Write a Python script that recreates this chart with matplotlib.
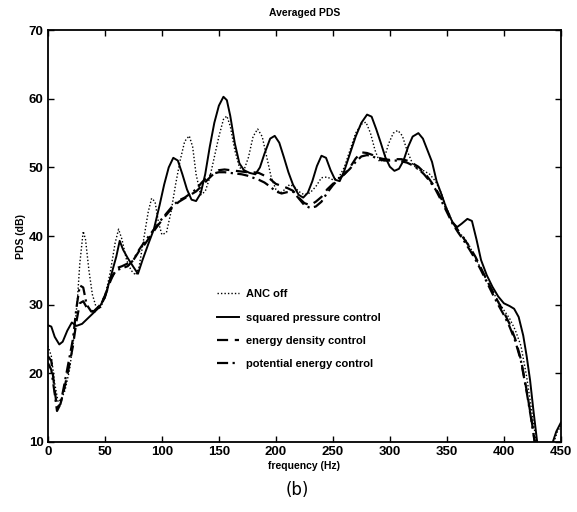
import matplotlib
matplotlib.use('Agg')
import matplotlib.pyplot as plt

# ANC off (dotted)
f_off = [0, 3, 6, 9, 12, 15, 19, 23, 26, 28, 31, 33, 36, 39, 42, 46, 50, 55, 59, 62,
         65, 69, 73, 77, 80, 84, 88, 91, 94, 97, 100, 104, 108, 112, 116, 120, 124, 127,
         130, 134, 138, 142, 146, 150, 154, 157, 160, 164, 168, 172, 176, 180, 184, 188,
         192, 196, 200, 204, 208, 212, 216, 220, 225, 230, 235, 240, 245, 250, 255, 260,
         265, 270, 275, 279, 283, 287, 291, 295, 299, 303, 307, 311, 315, 320, 325, 330,
         335, 340, 345, 350, 355, 360, 365, 370, 375, 380, 385, 390, 395, 400, 405, 410,
         415, 420, 424, 428, 430, 441, 444, 447, 450]
p_off = [24, 22.5, 18.5, 15.8, 16.3, 17.5, 20.5, 25.5, 31, 36, 40.7, 39.5, 35, 31.5, 29.8,
         29.5, 31, 35, 39, 41, 39.5, 36.5, 35, 34.3, 35.5, 39.5, 43.5, 45.5, 45, 42, 40.2,
         40.5, 43.5, 47.5, 51, 53.8, 54.6, 53, 49, 46, 46.5, 48.5, 51.5, 54.5, 57, 57.5, 56,
         52.5, 50, 49.6, 51.5, 54.5, 55.6, 54.5, 51.5, 48.5, 46.8, 46.3, 46.8, 47.5, 47.2,
         46.5, 46, 46.3, 47.2, 48.5, 48.6, 48.2, 48.5, 50, 52.5, 55, 56.3, 56.6, 55, 52.5,
         50.8, 51.3, 53.5, 55, 55.4, 54.6, 52.5, 50.5, 49.6, 49.5, 49, 48, 46.3, 44, 42,
         40.6, 39.8, 38.5, 36.8, 35.2, 33.5, 32, 30.5, 29.2, 28, 26.3, 24, 19.5, 15, 10.5,
         8, 8, 10, 11.5, 12.3]

# squared pressure control (solid)
f_sq = [0, 3, 6, 10, 13, 17, 21, 25, 30, 35, 40, 45, 50, 55, 60, 63, 66, 70, 75, 79, 83,
        88, 93, 98, 102, 106, 110, 114, 118, 122, 126, 130, 134, 138, 142, 146, 150, 154,
        157, 160, 164, 168, 172, 177, 182, 186, 190, 195, 199, 203, 207, 211, 215, 220,
        224, 228, 232, 236, 240, 244, 248, 252, 256, 260, 265, 270, 275, 280, 284, 288,
        292, 296, 300, 304, 308, 312, 316, 320, 325, 329, 333, 337, 341, 345, 350, 355,
        359, 363, 368, 372, 376, 380, 385, 390, 395, 400, 405, 409, 413, 417, 420, 423,
        426, 429, 431, 440, 443, 446, 450]
p_sq = [27, 26.8, 25.3, 24.2, 24.6, 26.2, 27.4, 26.9, 27.2, 28, 28.8, 29.6, 31, 34, 37,
        39.3, 38, 36.8, 35.5, 34.5, 36.5, 38.8, 41, 44.5, 47.5, 50, 51.4, 51, 49, 46.8,
        45.3, 45.1, 46.2, 49, 53, 56.5, 59, 60.3, 59.8, 57.5, 53.5, 50.6, 49.6, 49.2, 49,
        50, 52, 54.2, 54.6, 53.6, 51.5, 49.3, 47.5, 46, 45.6, 46.3, 48, 50.2, 51.7, 51.4,
        49.6, 48.2, 48, 49.5, 52, 54.5, 56.5, 57.7, 57.4, 55.6, 53.6, 51.5, 50.1, 49.5,
        49.8, 51, 53, 54.5, 55, 54.2, 52.5, 50.8, 48, 46.2, 43.8, 42, 41.3, 41.8, 42.5,
        42.2, 39.5, 36.5, 34.3, 32.6, 31.2, 30.2, 29.8, 29.4, 28.2, 25.5, 22.5, 19, 14.5,
        10.3, 8, 8, 10, 11.5, 12.8]

# energy density control (dashed)
f_ed = [0, 3, 6, 8, 11, 14, 18, 22, 25, 28, 31, 35, 40, 45, 50, 55, 60, 65, 70, 75, 80,
        85, 90, 95, 100, 105, 110, 115, 120, 125, 130, 135, 140, 145, 150, 155, 160, 165,
        170, 175, 180, 185, 190, 195, 200, 205, 210, 215, 220, 225, 230, 235, 240, 245,
        250, 255, 260, 265, 270, 275, 280, 285, 290, 295, 300, 305, 310, 315, 320, 325,
        330, 335, 340, 345, 350, 355, 360, 365, 370, 375, 380, 385, 390, 395, 400, 405,
        410, 415, 420, 424, 427, 429]
p_ed = [22.5, 21.8, 17.5, 15, 15.5, 17.5, 20.5, 24, 27.5, 30.2, 30.5, 29.3, 29, 29.8,
        31.2, 33.5, 35.3, 35.6, 36, 36.5, 37.8, 38.8, 40, 41.2, 42.3, 43.3, 44.3, 45, 45.5,
        46, 46.5, 47.3, 48.2, 49, 49.6, 49.7, 49.6, 49.5, 49.4, 49.3, 49.3, 49.2, 48.8,
        48.3, 47.6, 47.3, 47, 46.6, 45.6, 44.8, 44.5, 45, 45.7, 46.8, 47.6, 48.3, 49, 50,
        51.3, 52.2, 52.1, 51.8, 51.4, 51.2, 51.1, 51.2, 51.2, 51, 50.6, 50.1, 49.3, 48.2,
        47, 45.5, 43.8, 42, 40.8, 39.6, 38.4, 37, 35.3, 33.6, 32, 30.4, 28.9, 27.2, 25, 22,
        17.5, 13.5, 10.2, 8]

# potential energy control (dash-dot)
f_pe = [0, 3, 6, 8, 11, 14, 18, 22, 25, 28, 31, 34, 38, 42, 46, 50, 55, 60, 65, 70, 75,
        80, 85, 90, 95, 100, 105, 110, 115, 120, 125, 130, 135, 140, 145, 150, 155, 160,
        165, 170, 175, 180, 185, 190, 195, 200, 205, 210, 215, 220, 225, 230, 235, 240,
        245, 250, 255, 260, 265, 270, 275, 280, 285, 290, 295, 300, 305, 310, 315, 320,
        325, 330, 335, 340, 345, 350, 355, 360, 365, 370, 375, 380, 385, 390, 395, 400,
        405, 410, 415, 420, 424, 427, 429]
p_pe = [21.5, 20.5, 17, 14.5, 15.5, 18, 21.5, 25, 29.5, 32.8, 32.5, 30, 29, 29, 29.8,
        31.3, 33.8, 35, 35.3, 35.6, 36.5, 38, 39.2, 40.3, 41.4, 42.5, 43.5, 44.5, 45.2,
        45.6, 46.2, 46.8, 47.8, 48.6, 49.1, 49.3, 49.3, 49.2, 49.1, 49, 48.8, 48.5, 48.2,
        47.8, 47.2, 46.5, 46.2, 46.4, 46.5, 45.5, 44.5, 44.1, 44.3, 45, 46.3, 47.4, 48.3,
        49, 49.8, 50.8, 51.6, 51.8, 51.6, 51.2, 51, 51, 51, 50.9, 50.7, 50.3, 49.8, 49,
        48, 46.8, 45.2, 43.5, 41.8, 40.5, 39.3, 38, 36.6, 35, 33.3, 31.6, 30, 28.5, 26.8,
        24.7, 21.8, 17.3, 13.3, 10, 8]

plt.rcParams['font.family'] = ['Liberation Sans', 'DejaVu Sans']

fig = plt.figure(figsize=(5.77, 5.12), dpi=100)
ax = fig.add_axes([0.083, 0.137, 0.889, 0.804])

ax.plot(f_off, p_off, color='black', linestyle=(0, (1, 1.5)), linewidth=1.0, label='ANC off')
ax.plot(f_sq, p_sq, color='black', linestyle='-', linewidth=1.4, label='squared pressure control')
ax.plot(f_ed, p_ed, color='black', linestyle=(0, (5, 3)), linewidth=1.6, label='energy density control')
ax.plot(f_pe, p_pe, color='black', linestyle=(0, (5, 2, 1, 2)), linewidth=1.6,
        label='potential energy control')

ax.set_xlim(0, 450)
ax.set_ylim(10, 70)
ax.set_xticks(range(0, 451, 50))
ax.set_yticks(range(10, 71, 10))
ax.tick_params(direction='in', top=True, right=True, length=4, width=1,
               labelsize=9.5, pad=3)
for lab in ax.get_xticklabels() + ax.get_yticklabels():
    lab.set_fontweight('bold')
for s in ax.spines.values():
    s.set_linewidth(1.3)

ax.set_title('Averaged PDS', fontsize=7.5, fontweight='bold', pad=10)
ax.set_xlabel('frequency (Hz)', fontsize=7.5, fontweight='bold', labelpad=2)
ax.set_ylabel('PDS (dB)', fontsize=7.5, fontweight='bold', labelpad=2)

leg = ax.legend(loc='upper left', bbox_to_anchor=(0.31, 0.395), frameon=False,
                handlelength=2.0, handletextpad=0.6, labelspacing=1.2,
                prop={'size': 8, 'weight': 'bold'})

fig.text(0.515, 0.043, '(b)', fontsize=12, ha='center', va='center', family='DejaVu Sans')

fig.savefig('out.png', dpi=100)
